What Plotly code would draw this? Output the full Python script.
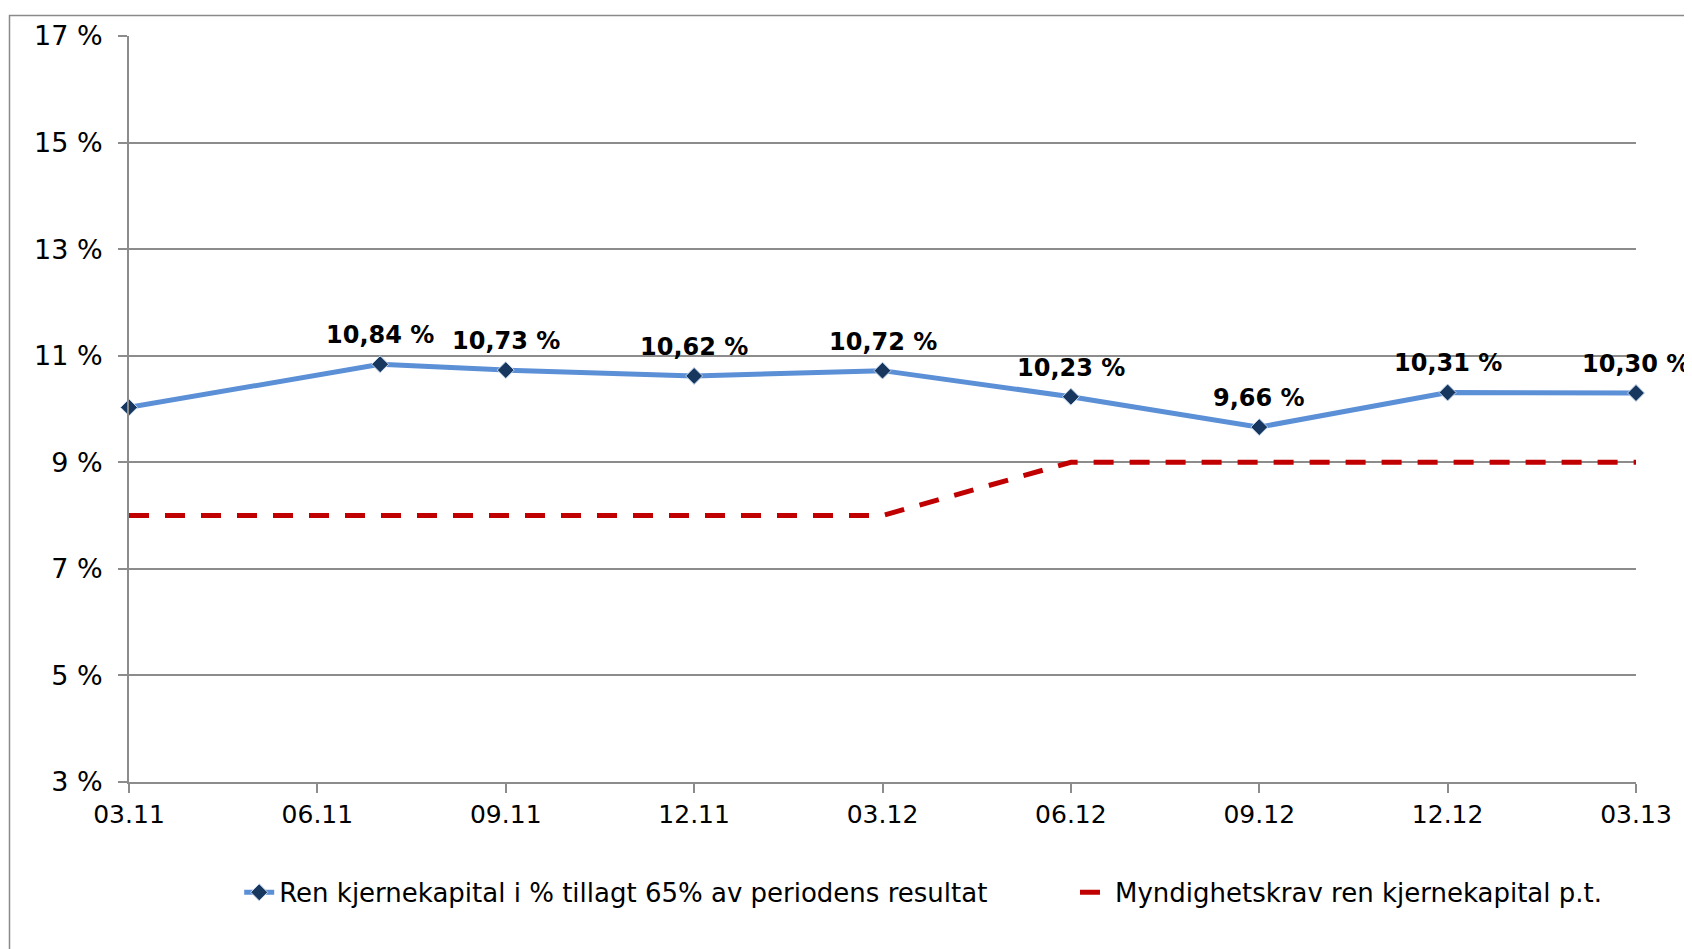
import plotly.graph_objects as go

# months after 03.11 (Excel date axis, monthly base)
months = [0, 4, 6, 9, 12, 15, 18, 21, 24]
ren_kjerne = [10.03, 10.84, 10.73, 10.62, 10.72, 10.23, 9.66, 10.31, 10.30]
krav = [8, 8, 8, 8, 8, 9, 9, 9, 9]
show_label = [False, True, True, True, True, True, True, True, True]

tick_months = [0, 3, 6, 9, 12, 15, 18, 21, 24]
tick_text = ["03.11", "06.11", "09.11", "12.11", "03.12", "06.12", "09.12", "12.12", "03.13"]
y_ticks = [3, 5, 7, 9, 11, 13, 15, 17]

FONT = "DejaVu Sans"
GRID = "#8c8c8c"

fig = go.Figure()

fig.add_trace(go.Scatter(
    x=months, y=krav,
    mode="lines",
    name="Myndighetskrav ren kjernekapital p.t.",
    line=dict(color="#C00000", width=5, dash="20px,16px"),
    cliponaxis=False,
))

fig.add_trace(go.Scatter(
    x=months, y=ren_kjerne,
    mode="lines+markers",
    name="Ren kjernekapital i % tillagt 65% av periodens resultat" + "\u00a0" * 10,
    line=dict(color="#5B8FD6", width=5),
    marker=dict(symbol="diamond", size=13, color="#17375E",
                line=dict(color="#C6D9F1", width=1)),
    cliponaxis=False,
))

# data labels above the points
for m, v, s in zip(months, ren_kjerne, show_label):
    if s:
        fig.add_annotation(
            x=m, y=v, text=f"{v:.2f}".replace(".", ",") + " %",
            showarrow=False, yanchor="bottom", yshift=13,
            font=dict(family=FONT, size=24, color="black", weight="bold"),
        )

# page has an 8px body margin, so the figure is 8px smaller than the window
fig.update_layout(
    width=1684, height=941,
    margin=dict(l=121, r=56, t=24, b=167),
    paper_bgcolor="white",
    plot_bgcolor="white",
    font=dict(family=FONT, color="black"),
    showlegend=True,
    legend=dict(
        orientation="h", x=0.527, xanchor="center", y=-0.148, yanchor="middle",
        font=dict(family=FONT, size=26, color="black"),
        traceorder="reversed",
    ),
    hovermode=False,
    shapes=[dict(type="rect", xref="paper", yref="paper",
                 x0=-0.0793, x1=1.2, y0=-0.4, y1=1.0276,
                 line=dict(color="#8a8a8a", width=1.5), layer="below")],
)

fig.update_xaxes(
    range=[0, 24],
    tickvals=tick_months, ticktext=tick_text,
    tickfont=dict(family=FONT, size=25, color="black"),
    showgrid=False, zeroline=False,
    showline=True, linecolor=GRID, linewidth=2,
    ticks="outside", ticklen=9, tickcolor=GRID, tickwidth=1.5,
)

fig.update_yaxes(
    range=[3, 17],
    tickvals=y_ticks, ticktext=[f"{v} %" for v in y_ticks],
    tickfont=dict(family=FONT, size=27, color="black"),
    ticklabelstandoff=10,
    showgrid=True, gridcolor=GRID, gridwidth=1.5,
    zeroline=False,
    showline=True, linecolor=GRID, linewidth=2,
    ticks="outside", ticklen=9, tickcolor=GRID, tickwidth=1.5,
)

fig.write_html("out.html")
